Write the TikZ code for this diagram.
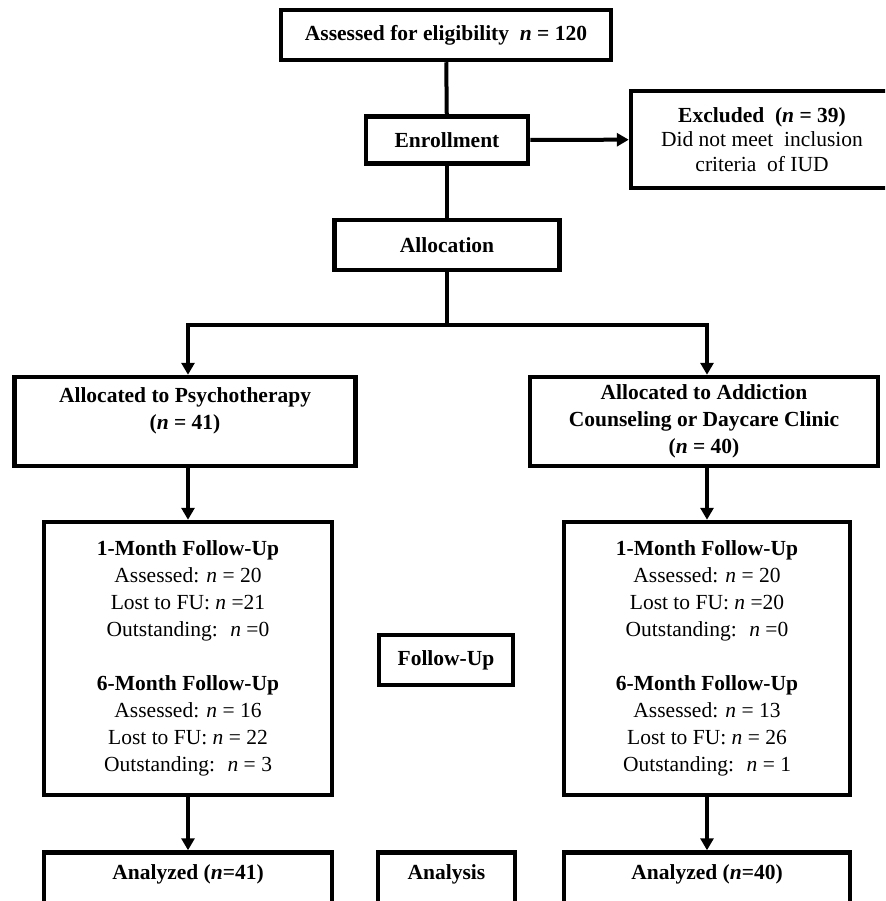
\documentclass[tikz,border=0pt]{standalone}
\usepackage{fontspec}
\setmainfont{Liberation Serif}
\usetikzlibrary{arrows.meta}

\begin{document}
\begin{tikzpicture}[x=1pt, y=-1pt,
	box/.style={draw, line width=4.5pt, align=center, inner sep=0pt, font=\fontsize{21.5}{27}\selectfont},
	link/.style={line width=4pt},
	arr/.style={line width=4pt, -{Triangle[width=13pt,length=12pt]}}]

\clip (0,0) rectangle (885,901);

\node [box, minimum width=330, minimum height=50] (elig) at (446,35) {\textbf{Assessed for eligibility \ \textit{n} = 120}};
\node [box, minimum width=162, minimum height=47] (enrol) at (447,140) {\textbf{Enrollment}};
\node [box, minimum width=225, minimum height=50] (alloc) at (447,245) {\textbf{Allocation}};
\node [box, minimum width=262, minimum height=97, font=\fontsize{21.5}{24.5}\selectfont] (excl) at (762,139.5) {\textbf{Excluded \ (\textit{n} = 39)}\\Did not meet \ inclusion\\criteria \ of IUD};

\coordinate (split) at (447,325);

\node [box, minimum width=341, minimum height=89] (psy) at (185,421.5) {\textbf{Allocated to Psychotherapy}\\\textbf{(\textit{n} = 41)}\\[-10pt]\strut};
\node [box, minimum width=348, minimum height=89] (add) at (704,421.5) {\textbf{Allocated to Addiction}\\\textbf{Counseling or Daycare Clinic}\\\textbf{(\textit{n} = 40)}};

\node [box, minimum width=288, minimum height=273] (fu1) at (188,658.5) {\textbf{1-Month Follow-Up}\\Assessed: \textit{n} = 20\\Lost to FU: \textit{n} =21\\Outstanding: \ \textit{n} =0\\\strut\\\textbf{6-Month Follow-Up}\\Assessed: \textit{n} = 16\\Lost to FU: \textit{n} = 22\\Outstanding: \ \textit{n} = 3};
\node [box, minimum width=134, minimum height=50] (fumid) at (446,660) {\textbf{Follow-Up}};
\node [box, minimum width=286, minimum height=273] (fu2) at (707,658.5) {\textbf{1-Month Follow-Up}\\Assessed: \textit{n} = 20\\Lost to FU: \textit{n} =20\\Outstanding: \ \textit{n} =0\\\strut\\\textbf{6-Month Follow-Up}\\Assessed: \textit{n} = 13\\Lost to FU: \textit{n} = 26\\Outstanding: \ \textit{n} = 1};

\node [box, minimum width=288, minimum height=66] (an1) at (188,885.5) {\textbf{Analyzed (\textit{n}=41)}\\[-8pt]\strut};
\node [box, minimum width=137, minimum height=66] (anmid) at (446.5,885.5) {\textbf{Analysis}\\[-8pt]\strut};
\node [box, minimum width=286, minimum height=66] (an2) at (707,885.5) {\textbf{Analyzed (\textit{n}=40)}\\[-8pt]\strut};


\draw [link] (elig) -- (enrol);
\draw [link] (enrol) -- (alloc);
\draw [arr] (enrol) -- (excl);
\draw [link] (alloc) -- (split);
\draw [arr] (split) -| (psy.north -| fu1.north);
\draw [arr] (split) -| (add.north -| fu2.north);

\draw [arr] (psy.south -| fu1.north) -- (fu1.north);
\draw [arr] (add.south -| fu2.north) -- (fu2.north);
\draw [arr] (fu1) -- (an1);
\draw [arr] (fu2) -- (an2);

\end{tikzpicture}
\end{document}
